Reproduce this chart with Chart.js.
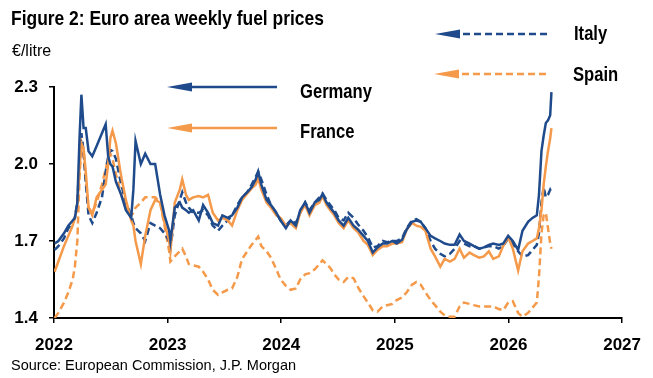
<!DOCTYPE html>
<html>
<head>
    <title>Euro area weekly fuel prices</title>
    <script src="https://cdn.jsdelivr.net/npm/chart.js@4.4.1/dist/chart.umd.min.js"></script>
    <style>
        body { margin: 0; background: #fff; }
        .wrap {
            position: relative;
            width: 653px;
            height: 378px;
            font-family: "Liberation Sans", Arial, sans-serif;
            color: #000;
        }
        .wrap canvas { position: absolute; left: 0; top: 0; }
        .title {
            position: absolute; left: 11px; top: 7px;
            font: bold 21px/21px "Liberation Sans", Arial, sans-serif;
            white-space: nowrap;
            transform: scaleX(0.83);
            transform-origin: 0 0;
        }
        .unit {
            position: absolute; left: 12px; top: 42.5px;
            font: 16px/16px "Liberation Sans", Arial, sans-serif;
        }
        .source {
            position: absolute; left: 11px; top: 357.5px;
            font: 14.5px/14.5px "Liberation Sans", Arial, sans-serif;
            white-space: nowrap;
        }
    </style>
</head>
<body>
    <div class="wrap">
        <canvas id="fuelChart"></canvas>
        <div class="title">Figure 2: Euro area weekly fuel prices</div>
        <div class="unit">€/litre</div>
        <div class="source">Source: European Commission, J.P. Morgan</div>
    </div>

    <script>
        const dates = [
            '2022-01-03','2022-01-15','2022-02-02','2022-02-16','2022-03-02','2022-03-09','2022-03-17','2022-03-24','2022-03-30','2022-04-06',
            '2022-04-13','2022-04-22','2022-05-04','2022-05-18','2022-06-04','2022-06-16','2022-06-24','2022-07-01','2022-07-08','2022-07-19',
            '2022-08-05','2022-08-20','2022-09-06','2022-09-13','2022-09-20','2022-10-07','2022-10-21','2022-11-07','2022-11-22','2022-12-08',
            '2022-12-22','2023-01-06',
            '2023-01-10','2023-01-24','2023-02-09','2023-02-17','2023-03-01','2023-03-10','2023-03-24','2023-04-11','2023-04-25','2023-05-11',
            '2023-05-26','2023-06-12','2023-06-26','2023-07-13','2023-07-27','2023-08-13','2023-08-28','2023-09-14','2023-09-28','2023-10-11',
            '2023-10-19','2023-10-29','2023-11-15','2023-11-29','2023-12-16','2023-12-30',
            '2024-01-16','2024-01-31','2024-02-17','2024-03-02','2024-03-18','2024-04-01','2024-04-18','2024-05-03','2024-05-13','2024-05-26',
            '2024-06-07','2024-06-20','2024-07-04','2024-07-20','2024-08-04','2024-08-21','2024-09-04','2024-09-22','2024-10-06','2024-10-22',
            '2024-11-06','2024-11-23','2024-12-07','2024-12-24','2025-01-07',
            '2025-01-24','2025-02-08','2025-02-25','2025-03-11','2025-03-25','2025-04-09','2025-04-26','2025-05-10','2025-05-27','2025-06-10',
            '2025-06-27','2025-07-12','2025-07-28','2025-08-11','2025-08-29','2025-09-12','2025-09-29','2025-10-14','2025-10-30','2025-11-13',
            '2025-12-01','2025-12-15','2025-12-31','2026-01-15',
            '2026-02-01','2026-02-15','2026-03-05','2026-03-19','2026-04-02','2026-04-09','2026-04-17','2026-04-24','2026-05-01','2026-05-08',
            '2026-05-15','2026-05-19'
        ];
        const germany = [
            1.69,1.70,1.73,1.76,1.78,1.79,1.85,2.10,2.27,2.14, 2.14,2.05,2.03,2.07,2.12,2.155,2.03,2.00,1.99,1.93,
            1.88,1.82,1.79,1.90,2.09,2.00,2.04,2.00,2.00,1.88, 1.80,1.74,
            1.70,1.83,1.85,1.83,1.82,1.81,1.82,1.78,1.84,1.81, 1.77,1.76,1.80,1.79,1.80,1.83,1.87,1.89,1.91,1.94,
            1.97,1.92,1.86,1.84,1.81,1.78,
            1.75,1.78,1.76,1.82,1.85,1.81,1.85,1.86,1.883,1.85, 1.83,1.81,1.78,1.76,1.79,1.76,1.745,1.72,1.70,1.655,
            1.675,1.69,1.69,1.70,1.69,
            1.705,1.745,1.775,1.78,1.775,1.75,1.72,1.71,1.70,1.69, 1.685,1.685,1.725,1.70,1.69,1.68,1.67,1.675,1.685,1.69,
            1.685,1.69,1.72,1.70,
            1.665,1.74,1.775,1.79,1.80,1.88,2.05,2.11,2.16,2.17, 2.19,2.28
        ];
        const france = [
            1.58,1.62,1.68,1.72,1.76,1.79,1.83,1.98,2.08,2.06, 1.97,1.83,1.80,1.87,1.90,1.92,2.00,2.10,2.13,2.08,
            1.95,1.86,1.78,1.76,1.70,1.61,1.72,1.82,1.86,1.85, 1.77,1.70,
            1.66,1.85,1.90,1.94,1.88,1.86,1.87,1.875,1.87,1.88, 1.81,1.78,1.79,1.78,1.76,1.82,1.86,1.885,1.905,1.92,
            1.945,1.90,1.85,1.83,1.80,1.79,
            1.76,1.77,1.75,1.81,1.84,1.80,1.84,1.85,1.875,1.84, 1.82,1.80,1.77,1.75,1.78,1.75,1.735,1.70,1.685,1.645,
            1.665,1.68,1.68,1.69,1.69,
            1.695,1.745,1.77,1.76,1.755,1.74,1.67,1.64,1.60,1.63, 1.62,1.63,1.67,1.635,1.655,1.645,1.635,1.64,1.66,1.63,
            1.64,1.68,1.715,1.67,
            1.585,1.66,1.69,1.70,1.71,1.75,1.82,1.92,1.99,2.05, 2.10,2.14
        ];
        const italy = [
            1.665,1.68,1.71,1.75,1.77,1.79,1.85,2.02,2.12,2.05, 1.93,1.80,1.77,1.81,1.87,1.97,2.03,2.055,2.05,2.02,
            1.92,1.85,1.80,1.77,1.75,1.73,1.70,1.77,1.76,1.75, 1.73,1.70,
            1.67,1.80,1.86,1.89,1.85,1.83,1.81,1.81,1.82,1.80, 1.76,1.74,1.76,1.78,1.80,1.84,1.87,1.89,1.92,1.95,
            1.97,1.94,1.88,1.84,1.81,1.78,
            1.76,1.78,1.77,1.81,1.85,1.82,1.85,1.87,1.885,1.86, 1.84,1.82,1.79,1.78,1.81,1.79,1.765,1.74,1.715,1.675,
            1.68,1.70,1.695,1.70,1.70,
            1.71,1.75,1.78,1.785,1.775,1.75,1.70,1.67,1.65,1.64, 1.65,1.67,1.70,1.69,1.68,1.68,1.67,1.675,1.68,1.68,
            1.67,1.68,1.71,1.69,
            1.66,1.64,1.645,1.665,1.685,1.73,1.85,1.91,1.87,1.88, 1.90,1.89
        ];
        const spain = [
            1.40,1.42,1.46,1.50,1.55,1.60,1.70,1.95,2.08,2.03, 1.94,1.83,1.81,1.85,1.92,1.98,2.02,2.04,2.02,1.96,
            1.88,1.83,1.80,1.81,1.83,1.85,1.87,1.87,1.87,1.85, 1.76,1.66,
            1.62,1.64,1.66,1.67,1.64,1.61,1.605,1.60,1.58,1.55, 1.51,1.49,1.50,1.51,1.515,1.56,1.63,1.66,1.685,1.705,
            1.717,1.68,1.66,1.635,1.59,1.55,
            1.525,1.51,1.515,1.55,1.57,1.575,1.59,1.61,1.625,1.61, 1.595,1.57,1.55,1.54,1.56,1.555,1.52,1.485,1.46,1.43,
            1.425,1.445,1.45,1.455,1.47,
            1.48,1.50,1.53,1.54,1.53,1.50,1.47,1.45,1.425,1.41, 1.405,1.405,1.445,1.46,1.455,1.45,1.445,1.445,1.445,1.445,
            1.435,1.43,1.46,1.465,
            1.42,1.405,1.42,1.44,1.46,1.56,1.73,1.80,1.81,1.75, 1.69,1.67
        ];
        const xTicks = [2022, 2023, 2024, 2025, 2026, 2027];
        const yTicks = [1.4, 1.7, 2.0, 2.3];

        const BLUE = '#1F4B8C';
        const ORANGE = '#F5994A';

        // date string -> fractional year for the linear x axis
        function toYear(s) {
            const d = new Date(s + 'T00:00:00Z');
            const y = d.getUTCFullYear();
            const start = Date.UTC(y, 0, 1), end = Date.UTC(y + 1, 0, 1);
            return y + (d.getTime() - start) / (end - start);
        }
        function series(values) {
            return dates.map((d, i) => ({ x: toYear(d), y: values[i] }));
        }

        // arrow-style legend callouts
        const calloutPlugin = {
            id: 'callouts',
            afterDatasetsDraw(chart, args, opts) {
                const ctx = chart.ctx;
                opts.items.forEach(item => {
                    const ds = chart.data.datasets[item.index];
                    ctx.save();
                    ctx.strokeStyle = ds.borderColor;
                    ctx.fillStyle = ds.borderColor;
                    ctx.lineWidth = 2.5;
                    ctx.setLineDash(ds.borderDash || []);
                    ctx.beginPath();
                    ctx.moveTo(item.x1 + (ds.borderDash ? 28 : 20), item.y);
                    ctx.lineTo(item.x2, item.y);
                    ctx.stroke();
                    ctx.setLineDash([]);
                    ctx.beginPath();
                    ctx.moveTo(item.x1, item.y);
                    ctx.lineTo(item.x1 + 25, item.y - 4.5);
                    ctx.lineTo(item.x1 + 25, item.y + 4.5);
                    ctx.closePath();
                    ctx.fill();
                    // condensed bold label
                    ctx.fillStyle = '#000';
                    ctx.font = 'bold 20px "Liberation Sans", Arial, sans-serif';
                    ctx.textBaseline = 'middle';
                    ctx.textAlign = 'left';
                    ctx.translate(item.tx, item.ty);
                    ctx.scale(0.83, 1);
                    ctx.fillText(ds.label, 0, 0);
                    ctx.restore();
                });
            }
        };

        const ctx = document.getElementById('fuelChart').getContext('2d');
        new Chart(ctx, {
            type: 'line',
            data: {
                datasets: [{
                    label: 'Germany',
                    data: series(germany),
                    borderColor: BLUE,
                    borderWidth: 2.5
                }, {
                    label: 'France',
                    data: series(france),
                    borderColor: ORANGE,
                    borderWidth: 2.5
                }, {
                    label: 'Italy',
                    data: series(italy),
                    borderColor: BLUE,
                    borderWidth: 2.5,
                    borderDash: [7, 4]
                }, {
                    label: 'Spain',
                    data: series(spain),
                    borderColor: ORANGE,
                    borderWidth: 2.5,
                    borderDash: [7, 4]
                }]
            },
            options: {
                responsive: true,
                maintainAspectRatio: false,
                animation: false,
                elements: { point: { radius: 0 }, line: { tension: 0 } },
                layout: { padding: { top: 87, right: 8, bottom: 0, left: 0 } },
                scales: {
                    x: {
                        type: 'linear',
                        min: 2022,
                        max: 2027,
                        afterBuildTicks: s => { s.ticks = xTicks.map(v => ({ value: v })); },
                        afterFit: s => { s.height = 60; },
                        grid: { drawOnChartArea: false, drawTicks: true, tickLength: 5, color: '#000', lineWidth: 1.5 },
                        border: { color: '#000', width: 2 },
                        ticks: {
                            callback: v => String(v),
                            color: '#000',
                            font: { family: '"Liberation Sans", Arial, sans-serif', size: 17, weight: 'bold' },
                            padding: 12,
                            maxRotation: 0,
                            autoSkip: false
                        }
                    },
                    y: {
                        min: 1.4,
                        max: 2.3,
                        afterBuildTicks: s => { s.ticks = yTicks.map(v => ({ value: v })); },
                        afterFit: s => { s.width = 54; },
                        grid: { drawOnChartArea: false, drawTicks: true, tickLength: 5, color: '#000', lineWidth: 1.5 },
                        border: { color: '#000', width: 2 },
                        ticks: {
                            callback: v => v.toFixed(1),
                            color: '#000',
                            font: { family: '"Liberation Sans", Arial, sans-serif', size: 17, weight: 'bold' },
                            padding: 11
                        }
                    }
                },
                plugins: {
                    legend: { display: false },
                    tooltip: { enabled: false },
                    callouts: {
                        items: [
                            { index: 0, x1: 167, x2: 277, y: 87, tx: 300, ty: 92 },
                            { index: 1, x1: 167, x2: 277, y: 128, tx: 300, ty: 132 },
                            { index: 2, x1: 435, x2: 547, y: 34, tx: 574, ty: 34 },
                            { index: 3, x1: 434, x2: 546, y: 74, tx: 573, ty: 75 }
                        ]
                    }
                }
            },
            plugins: [calloutPlugin]
        });
    </script>
</body>
</html>
